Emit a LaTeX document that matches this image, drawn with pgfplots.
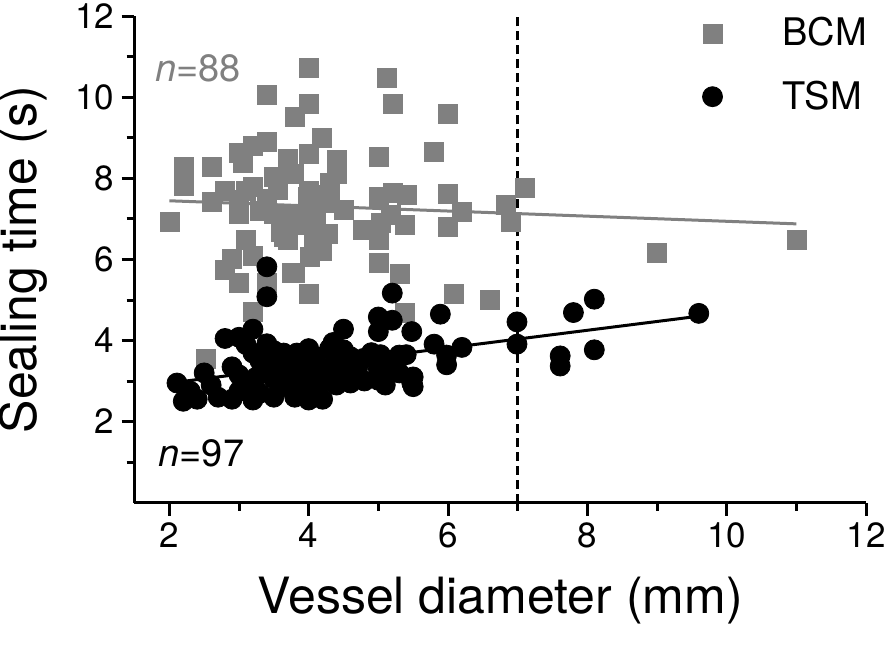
\documentclass[border=0pt]{standalone}
\usepackage{fontspec}
\setmainfont{TeX Gyre Heros}
\usepackage{pgfplots}
\pgfplotsset{compat=1.18}
\definecolor{bcm}{RGB}{128,128,128}
\begin{document}
\begin{tikzpicture}
\begin{axis}[
 name=ax, at={(0,0)}, anchor=south west,
 scale only axis, width=365.75pt, height=243pt,
 xmin=1.5, xmax=12, ymin=0, ymax=12,
 axis lines=left, axis line style={-, line width=1.5pt},
 xtick={2,4,...,12}, ytick={2,4,...,12},
 minor xtick={3,5,...,11}, minor ytick={1,3,...,11},
 tick align=outside, major tick length=6.5pt, minor tick length=4pt,
 tick style={black, line width=1.5pt},
 ticklabel style={font=\fontsize{17.5}{20}\selectfont},
 /pgf/number format/assume math mode=true,
 xlabel={Vessel diameter (mm)}, ylabel={Sealing time (s)},
 every axis x label/.style={at={(axis description cs:0.5,-0.2294)}, anchor=base, font=\fontsize{25}{30}\selectfont},
 every axis y label/.style={at={(axis description cs:-0.1337,0.5)}, anchor=base, rotate=90, font=\fontsize{25}{30}\selectfont},
 clip=false,
 legend style={at={(axis description cs:0.7765,0.9002)}, anchor=west, draw=none, fill=none,
   inner sep=0pt, outer sep=0pt, font=\fontsize{19}{22}\selectfont, row sep=14pt, column sep=0pt,
   nodes={inner sep=1pt}},
 legend cell align=left,
 legend image code/.code={\path[draw=none,fill=none] (-4.75pt,0pt) -- (34pt,0pt); \draw[#1] plot coordinates {(0pt,0pt)};},
]
% cutoff line
\addplot[forget plot, black, line width=1.5pt, dash pattern=on 4.5pt off 2.5pt] coordinates {(7,0) (7,12)};
% BCM
\addplot[only marks, mark=square*, mark size=4.75pt, color=bcm, mark options={line width=0.1pt}] coordinates {
(2.0,6.93) (2.2,8.3) (2.2,8.05) (2.2,7.82) (2.6,8.3) (2.6,7.43) (2.8,7.7) (3.0,8.65) (3.05,8.4)
(3.2,8.8) (3.4,8.9) (3.4,10.06) (3.0,7.47) (3.0,7.14) (3.2,7.8) (3.3,7.2) (3.5,8.05) (3.5,7.14)
(3.55,7.72) (3.7,8.5) (3.78,8.13) (3.8,9.53) (4.0,10.75) (4.0,9.86) (4.0,8.62) (4.0,7.7) (3.98,7.55)
(3.78,7.14) (3.83,6.85) (3.93,7.05) (3.7,6.48) (3.64,6.56) (4.19,9.0) (4.4,8.46) (4.4,8.13) (4.3,7.9)
(4.1,7.05) (4.17,6.56) (4.27,6.65) (4.07,6.48) (4.5,7.22) (4.02,6.07) (4.19,6.23) (3.8,5.67) (4.0,5.17)
(3.75,5.67) (3.1,6.48) (2.9,6.03) (2.8,5.74) (3.2,6.1) (3.0,5.42) (3.4,5.42) (3.2,4.72) (2.52,3.56)
(5.0,8.54) (5.12,10.48) (5.2,9.86) (5.0,7.55) (5.2,7.64) (5.4,7.6) (4.78,6.73) (5.03,6.9) (5.38,6.85)
(5.17,7.1) (5.0,5.92) (5.3,5.66) (5.38,4.7) (5.8,8.66) (6.0,9.6) (6.0,7.63) (6.2,7.18) (6.0,6.8)
(6.08,5.17) (6.6,5.0) (6.82,7.35) (6.9,6.93) (7.1,7.77) (9.0,6.17) (11.0,6.5) (5.0,6.5) (3.4,7.5)
(3.6,7.0) (4.2,7.6) (4.3,7.4) (3.1,7.7) (3.6,6.7) (4.0,6.9) (4.1,7.3)
};
\addlegendentry{BCM}
\addplot[forget plot, bcm, line width=1.5pt] coordinates {(2.0,7.45) (11.0,6.88)};
% TSM
\addplot[only marks, mark=*, mark size=5pt, color=black] coordinates {
(2.11,2.95) (2.2,2.5) (2.4,2.55) (2.5,3.2) (2.7,2.6) (2.8,4.05) (3.0,4.08) (3.2,4.28) (3.4,3.92)
(3.2,3.69) (2.9,3.35) (3.0,3.15) (3.0,2.75) (3.17,2.86) (3.2,2.53) (3.5,2.6) (3.5,3.05) (3.55,3.4)
(3.69,3.52) (3.83,3.69) (4.0,3.8) (3.83,3.02) (4.0,2.53) (4.2,2.55) (4.02,3.2) (4.3,3.8) (4.5,4.28)
(4.4,3.52) (4.55,3.25) (4.6,2.95) (4.79,3.56) (5.0,3.02) (5.0,4.58) (5.0,4.22) (5.03,3.65) (5.2,5.17)
(3.4,5.82) (3.4,5.08) (3.64,3.69) (3.74,3.1) (3.93,3.35) (3.93,2.95) (4.31,3.35) (4.5,3.77) (5.2,4.5)
(5.2,3.35) (5.3,3.64) (5.48,4.22) (5.48,2.95) (5.5,3.1) (5.5,2.86) (5.89,4.65) (5.8,3.91) (5.98,3.64)
(5.98,3.4) (6.2,3.83) (6.99,4.46) (6.99,3.91) (7.61,3.62) (7.61,3.37) (7.8,4.69) (8.1,5.02) (8.1,3.77)
(9.6,4.67) (2.3,2.75) (2.6,2.9) (2.9,2.55) (3.1,3.0) (3.3,3.5) (3.3,2.7) (3.4,3.25) (3.6,2.85)
(3.7,3.3) (3.8,2.6) (3.9,3.5) (4.0,3.05) (4.1,3.6) (4.1,2.8) (4.2,3.3) (4.25,3.0) (4.4,3.1)
(4.4,2.9) (4.6,3.6) (4.7,3.3) (4.8,3.0) (4.9,3.7) (5.0,3.3) (5.1,2.9) (5.1,3.5) (5.3,3.2)
(5.4,3.65) (3.5,3.75) (3.8,3.4) (4.35,3.95) (3.1,3.9) (3.25,3.1) (4.65,3.45)
};
\addlegendentry{TSM}
\addplot[forget plot, black, line width=1.5pt] coordinates {(2.1,2.97) (9.6,4.6)};
\node[anchor=base west, inner sep=0pt, text=bcm, font=\fontsize{19}{22}\selectfont] at (axis cs:1.79,10.39) {\textit{n}=88};
\node[anchor=base west, inner sep=0pt, text=black, font=\fontsize{19}{22}\selectfont] at (axis cs:1.84,0.877) {\textit{n}=97};
\end{axis}
\pgfresetboundingbox
\path[use as bounding box] (-67.25pt,-72.25pt) rectangle (375.75pt,251.25pt);
\end{tikzpicture}
\end{document}
